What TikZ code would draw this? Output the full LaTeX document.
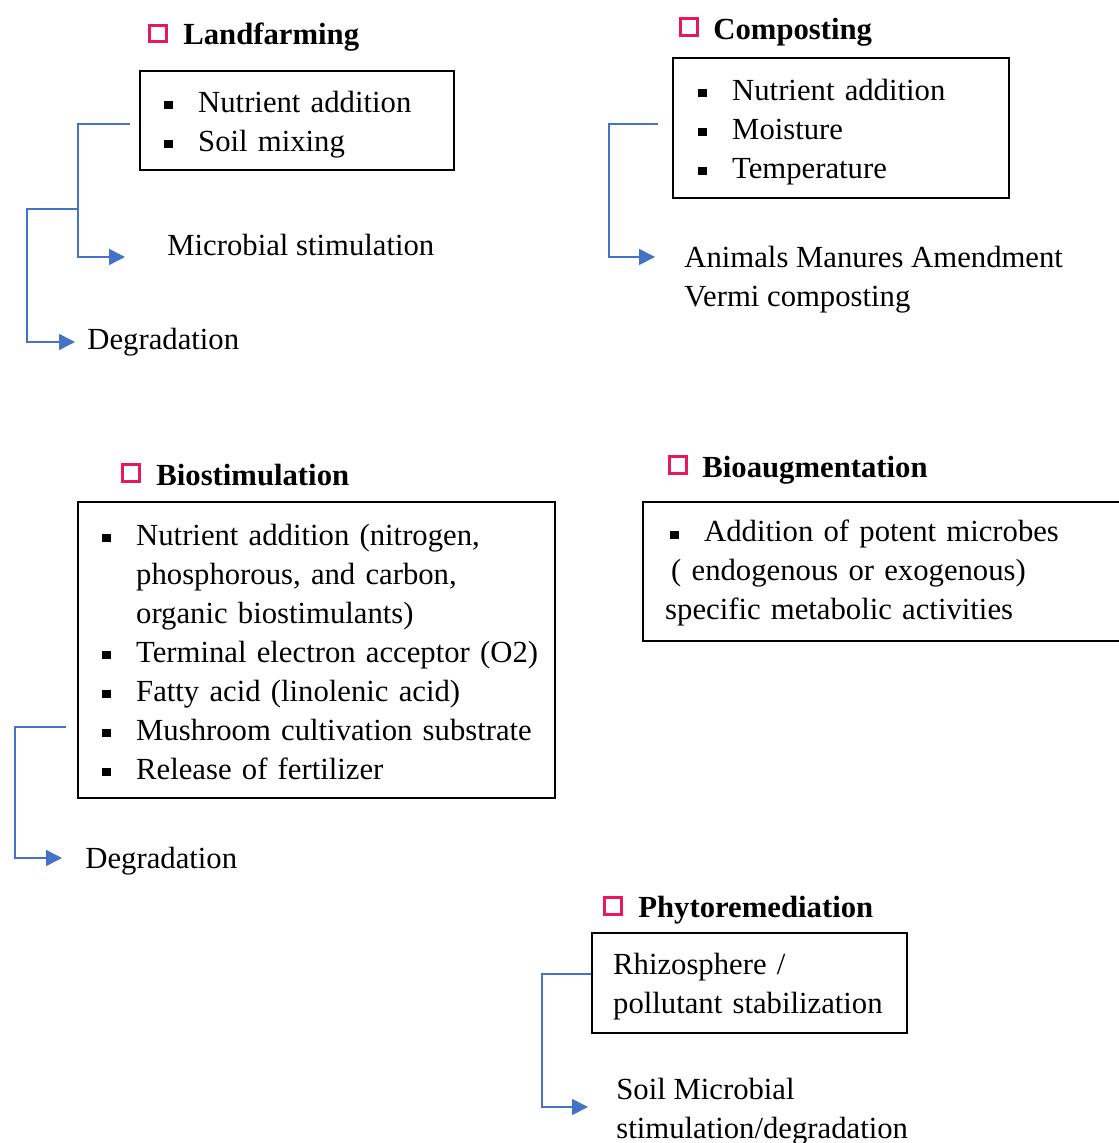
\documentclass[tikz,border=0pt]{standalone}
\usepackage{fontspec}
\setmainfont{Liberation Serif}
\usetikzlibrary{arrows.meta}
\definecolor{lnblue}{HTML}{4472C4}
\definecolor{chkred}{HTML}{E8185C}
\newcommand\itm[1]{\mbox{\makebox[17pt][l]{\rule[1.5pt]{4.2pt}{4.2pt}}#1}}
\newcommand\cnt[1]{\mbox{\hspace*{17pt}#1}}
\newcommand\lift[1]{\rule{0pt}{#1}}
\begin{document}
\begin{tikzpicture}[x=0.5pt, y=-0.5pt,
  every node/.style={font=\fontsize{15.35}{19.5}\selectfont, inner sep=0},
  chk/.style={draw=chkred, line width=1.5pt, minimum size=8.4pt},
  head/.style={anchor=base west, font=\fontsize{15.35}{19.5}\selectfont\bfseries},
  box/.style={draw, line width=1.2pt, anchor=north west, align=left},
  link/.style={draw=lnblue, line width=0.8pt, -{Triangle[length=8pt,width=8pt]}}]
\useasboundingbox (0,0) rectangle (1118,1143);

% landfarming
\node[chk] (lf chk) at (158,33.5) {};
\node[head] (lf head) at (183,45) {Landfarming};
\node[box, inner xsep=12pt, text width=133pt, minimum height=49.5pt] (lf box) at (139,70)
  {\lift{14.5pt}\itm{Nutrient addition}\\ \itm{Soil mixing}};
\node[anchor=base west] (lf micro) at (167,256) {Microbial stimulation};
\node[anchor=base west] (lf deg) at (87,350) {Degradation};
\coordinate (lf fork) at (78,209);
\coordinate (lf tip) at (125,257);
\coordinate (lf tip2) at (75,342);
\draw[link] ([xshift=-4.5pt,yshift=-1.75pt]lf box.west) -| (lf fork) |- (lf tip);
\draw[link] (lf fork) -- ++(-51,0) |- (lf tip2);

% composting
\node[chk] (cp chk) at (689,27) {};
\node[head] (cp head) at (713,40) {Composting};
\node[box, inner xsep=12.5pt, text width=143pt, minimum height=70pt] (cp box) at (672,57)
  {\lift{14.5pt}\itm{Nutrient addition}\\ \itm{Moisture}\\ \itm{Temperature}};
\node[anchor=west, align=left] (cp out) at (684,280) {Animals Manures Amendment\\Vermi composting};
\coordinate (cp tip) at (655,257);
\draw[link] ([xshift=-7pt,yshift=2pt]cp box.west) -- ++(-49,0) |- (cp tip);

% biostimulation
\node[chk] (bs chk) at (131,473) {};
\node[head] (bs head) at (156,485) {Biostimulation};
\node[box, inner xsep=12pt, text width=214.5pt, minimum height=148pt] (bs box) at (77,501)
  {\lift{12pt}\itm{Nutrient addition (nitrogen,}\\ \cnt{phosphorous, and carbon,}\\ \cnt{organic biostimulants)}\\
   \itm{Terminal electron acceptor (O2)}\\ \itm{Fatty acid (linolenic acid)}\\
   \itm{Mushroom cultivation substrate}\\ \itm{Release of fertilizer}};
\node[anchor=base west] (bs deg) at (85,868) {Degradation};
\coordinate (bs tip) at (62,858);
\draw[link] ([xshift=-5.5pt,yshift=-38.5pt]bs box.west) -- ++(-51,0) |- (bs tip);

% bioaugmentation
\node[chk] (ba chk) at (678,465) {};
\node[head] (ba head) at (702,477) {Bioaugmentation};
\node[box, inner xsep=11pt, text width=219.5pt, minimum height=69.5pt] (ba box) at (642,501)
  {\lift{12.5pt}\hspace*{2.5pt}\itm{Addition of potent microbes}\\ \hspace*{3pt}( endogenous or exogenous)\\ specific metabolic activities};

% phytoremediation
\node[chk] (ph chk) at (613,906) {};
\node[head] (ph head) at (638,917) {Phytoremediation};
\node[box, inner xsep=10.5pt, text width=136.5pt, minimum height=50pt] (ph box) at (591,932)
  {\lift{14.5pt}Rhizosphere /\\ pollutant stabilization};
\node[anchor=west, align=left] (ph out) at (616,1112) {Soil Microbial\\stimulation/degradation};
\coordinate (ph tip) at (588,1107);
\draw[link] ([yshift=4.5pt]ph box.west) -- ++(-49,0) |- (ph tip);
\end{tikzpicture}
\end{document}
